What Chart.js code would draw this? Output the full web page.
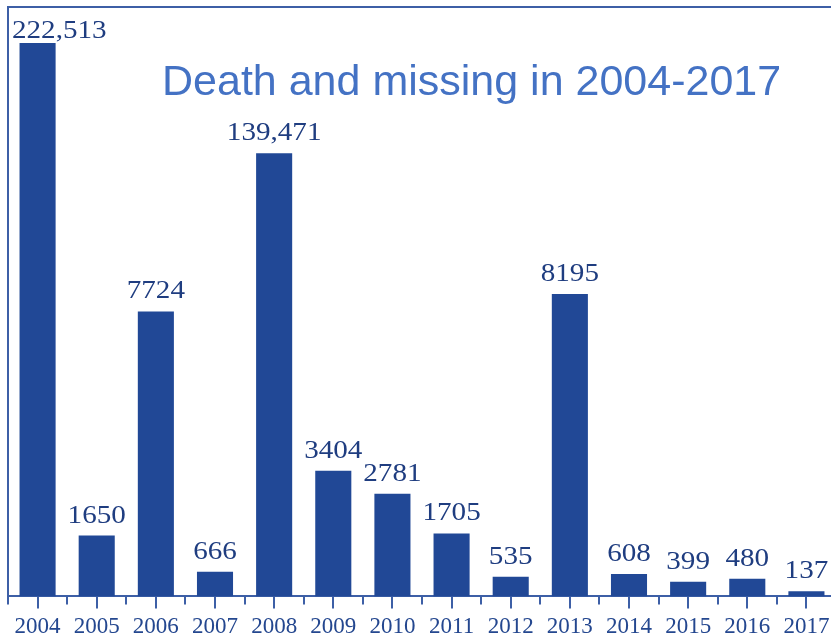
<!DOCTYPE html>
<html>
<head>
<meta charset="utf-8">
<script src="https://cdn.jsdelivr.net/npm/chart.js@4.4.1/dist/chart.umd.min.js"></script>
<style>
    html, body { margin: 0; padding: 0; background: #ffffff; overflow: hidden; }
    #wrap { position: relative; width: 836px; height: 646px; }
</style>
</head>
<body>
<div id="wrap"><canvas id="chart" width="836" height="646"></canvas></div>
<script>
// Years on the x axis
const years = ['2004', '2005', '2006', '2007', '2008', '2009', '2010',
               '2011', '2012', '2013', '2014', '2015', '2016', '2017'];
// Death and missing count per year (printed above the bars)
const deaths = [222513, 1650, 7724, 666, 139471, 3404, 2781,
                1705, 535, 8195, 608, 399, 480, 137];
// Bar heights as drawn in the picture (the axis is broken for 2004 and 2008)
const barHeights = [15000, 1650, 7724, 666, 12010, 3404, 2781,
                    1705, 535, 8195, 608, 399, 480, 137];
const chartTitle = 'Death and missing in 2004-2017';

const BAR = '#214896';
const INK = '#1f3d80';
const FRAME = '#3d5fa6';

function fmt(v) {
    return v >= 100000 ? v.toLocaleString('en-US') : String(v);
}

const decorations = {
    id: 'decorations',
    afterDraw(chart) {
        const { ctx, chartArea, scales } = chart;
        const x = scales.x;
        ctx.save();

        // frame: top and left lines
        ctx.strokeStyle = FRAME;
        ctx.lineWidth = 2;
        ctx.beginPath();
        ctx.moveTo(chartArea.left, chartArea.bottom);
        ctx.lineTo(chartArea.left, 7);
        ctx.lineTo(chart.width, 7);
        ctx.stroke();

        // short ticks at category boundaries
        const half = (x.getPixelForValue(1) - x.getPixelForValue(0)) / 2;
        ctx.beginPath();
        for (let i = 0; i <= years.length; i++) {
            const px = Math.round(x.getPixelForValue(0) - half + i * half * 2);
            ctx.moveTo(px, chartArea.bottom);
            ctx.lineTo(px, chartArea.bottom + 8);
        }
        ctx.stroke();

        // value labels above bars (slightly wide serif, as in the source)
        const meta = chart.getDatasetMeta(0);
        const sx = 1.12;
        ctx.fillStyle = INK;
        ctx.font = '26px "Liberation Serif", "Times New Roman", serif';
        ctx.textBaseline = 'alphabetic';
        meta.data.forEach((bar, i) => {
            const text = fmt(deaths[i]);
            const w = ctx.measureText(text).width * sx;
            let left = bar.x - w / 2;
            if (left < chartArea.left + 4) left = chartArea.left + 4;
            const y = Math.max(bar.y - 13, 38);
            ctx.save();
            ctx.translate(left, y);
            ctx.scale(sx, 1);
            ctx.fillText(text, 0, 0);
            ctx.restore();
        });

        // title
        ctx.fillStyle = '#4472c4';
        ctx.font = '43px "Liberation Sans", Arial, sans-serif';
        ctx.fillText(chartTitle, 162, 95);
        ctx.restore();
    }
};

new Chart(document.getElementById('chart').getContext('2d'), {
    type: 'bar',
    data: {
        labels: years,
        datasets: [{
            data: barHeights,
            backgroundColor: BAR,
            borderWidth: 0,
            categoryPercentage: 1,
            barPercentage: 0.61,
        }],
    },
    options: {
        responsive: false,
        animation: false,
        layout: { padding: { left: 8, top: 6, right: 0, bottom: 0 } },
        plugins: {
            legend: { display: false },
            tooltip: { enabled: false },
        },
        scales: {
            x: {
                offset: true,
                grid: {
                    offset: false,
                    drawOnChartArea: false,
                    color: FRAME,
                    lineWidth: 2,
                    tickLength: 12,
                },
                border: { display: true, color: FRAME, width: 2 },
                ticks: {
                    color: '#24478f',
                    font: { family: '"Liberation Serif", "Times New Roman", serif', size: 23 },
                    padding: 5,
                    maxRotation: 0,
                    autoSkip: false,
                },
            },
            y: {
                display: false,
                min: 0,
                max: 16000,
            },
        },
    },
    plugins: [decorations],
});
</script>
</body>
</html>
